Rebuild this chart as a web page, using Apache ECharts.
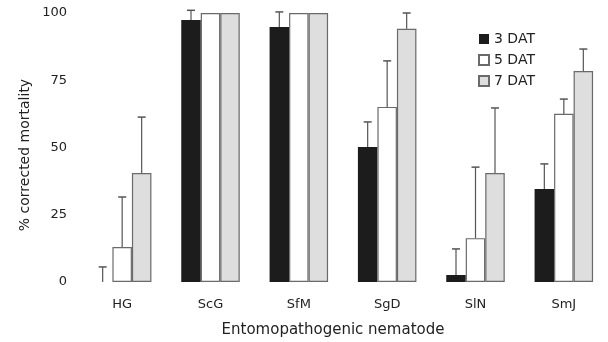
<!DOCTYPE html>
<html>
<head>
<meta charset="utf-8">
<script src="https://cdn.jsdelivr.net/npm/echarts@6/dist/echarts.min.js"></script>
<style>
  html, body { margin: 0; padding: 0; background: #fff; }
  #main { width: 608px; height: 342px; }
</style>
</head>
<body>
<div id="main"></div>
<script>
// categories and values
var categories = ['HG', 'ScG', 'SfM', 'SgD', 'SlN', 'SmJ'];
var seriesNames = ['3 DAT', '5 DAT', '7 DAT'];
var dat3 = [0, 97.4, 94.8, 50.2, 2.6, 34.6];
var dat5 = [13, 100, 100, 65.1, 16.3, 62.5];
var dat7 = [40.5, 100, 100, 94.1, 40.5, 78.4];
// top of the error bar for each mean (null = none drawn)
var err3 = [5.6, 101, 100.4, 59.5, 12.3, 43.9];
var err5 = [31.6, null, null, 82.2, 42.7, 68];
var err7 = [61.3, null, null, 100, 64.7, 86.6];
var yTicks = [0, 25, 50, 75, 100];

var BAR_W = 19.5;
var font = 'DejaVu Sans, Liberation Sans, sans-serif';

const myCharts = echarts.init(document.getElementById('main'));

var means = [dat3, dat5, dat7];
var errs = [err3, err5, err7];
var errData = [];
for (var s = 0; s < 3; s++) {
  for (var i = 0; i < categories.length; i++) {
    if (errs[s][i] != null) errData.push([i, means[s][i], errs[s][i], s]);
  }
}

function renderErr(params, api) {
  var ci = api.value(0);
  var lo = api.coord([ci, api.value(1)]);
  var hi = api.coord([ci, api.value(2)]);
  var x = lo[0] + (api.value(3) - 1) * BAR_W;
  var cap = 4;
  return {
    type: 'group',
    children: [{
      type: 'line',
      shape: { x1: x, y1: lo[1], x2: x, y2: hi[1] },
      style: { stroke: '#555', lineWidth: 1.2 }
    }, {
      type: 'line',
      shape: { x1: x - cap, y1: hi[1], x2: x + cap, y2: hi[1] },
      style: { stroke: '#555', lineWidth: 1.5 }
    }]
  };
}

var option = {
  backgroundColor: '#ffffff',
  animation: false,
  textStyle: { fontFamily: font },
  grid: { left: 78, top: 13, width: 536, bottom: 60 },
  legend: {
    orient: 'vertical',
    left: 473,
    top: 27,
    icon: 'rect',
    itemWidth: 10,
    itemHeight: 10,
    itemGap: 7,
    data: seriesNames,
    textStyle: { fontSize: 14, color: '#222', fontFamily: font }
  },
  xAxis: {
    type: 'category',
    data: categories,
    axisLine: { show: false },
    axisTick: { show: false },
    axisLabel: { margin: 16, fontSize: 13, color: '#222', fontFamily: font }
  },
  yAxis: {
    type: 'value',
    min: 0,
    max: 100,
    interval: 25,
    axisLine: { show: false },
    axisTick: { show: false },
    splitLine: { show: false },
    axisLabel: {
      margin: 11, fontSize: 13, color: '#222', fontFamily: font,
      formatter: function (v) { return yTicks.indexOf(v) >= 0 ? String(v) : ''; }
    }
  },
  // axis titles placed by hand to sit where the printed figure has them
  graphic: [{
    type: 'text',
    x: 333,
    y: 330,
    style: {
      text: 'Entomopathogenic nematode', fontSize: 15, fill: '#222', fontFamily: font,
      align: 'center', verticalAlign: 'middle'
    }
  }, {
    type: 'text',
    x: 25,
    y: 155,
    rotation: Math.PI / 2,
    style: {
      text: '% corrected mortality', fontSize: 14, fill: '#222', fontFamily: font,
      align: 'center', verticalAlign: 'middle'
    }
  }],
  series: [{
    name: seriesNames[0],
    type: 'bar',
    barWidth: BAR_W,
    barGap: '0%',
    data: dat3,
    itemStyle: { color: '#1c1c1c', borderWidth: 0 }
  }, {
    name: seriesNames[1],
    type: 'bar',
    barWidth: BAR_W,
    barGap: '0%',
    data: dat5,
    itemStyle: { color: '#ffffff', borderColor: '#6a6a6a', borderWidth: 1.2 }
  }, {
    name: seriesNames[2],
    type: 'bar',
    barWidth: BAR_W,
    barGap: '0%',
    data: dat7,
    itemStyle: { color: '#dedede', borderColor: '#6a6a6a', borderWidth: 1.2 }
  }, {
    type: 'custom',
    renderItem: renderErr,
    data: errData,
    z: 1
  }]
};

myCharts.setOption(option);
</script>
</body>
</html>
